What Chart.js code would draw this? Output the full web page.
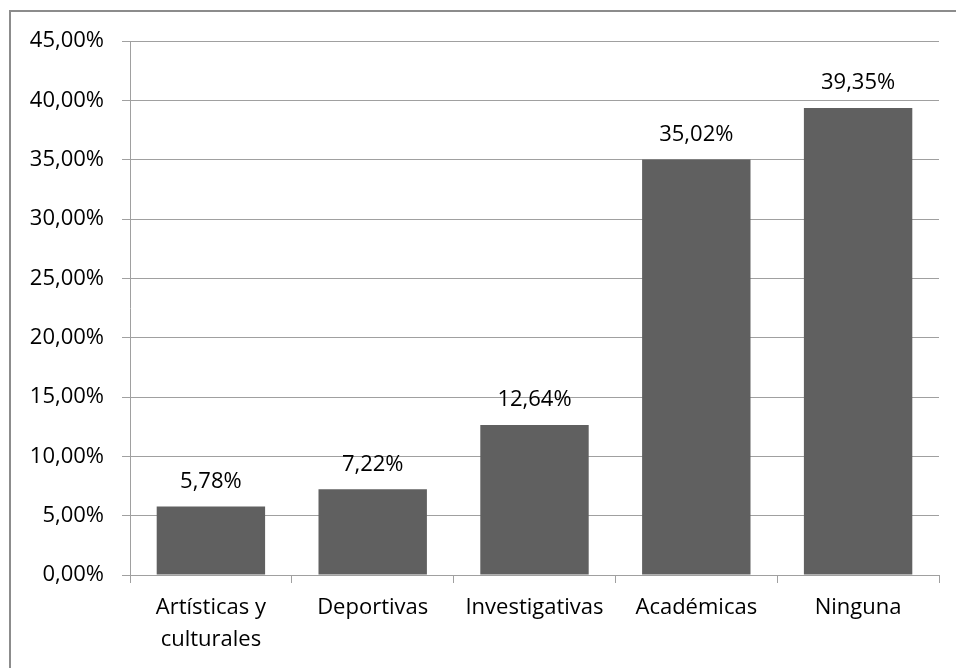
<!DOCTYPE html>
<html>
<head>
<meta charset="utf-8">
<script src="https://cdn.jsdelivr.net/npm/chart.js@4/dist/chart.umd.min.js"></script>
<style>
  html, body { margin: 0; padding: 0; background: #fff; }
  #wrap { position: relative; width: 956px; height: 668px; overflow: hidden; }
  #frame { position: absolute; left: 9px; top: 10px; width: 1000px; height: 700px; border: 2px solid #8c8c8c; box-sizing: border-box; }
  canvas { position: absolute; left: 0; top: 0; }
</style>
</head>
<body>
<div id="wrap">
  <div id="frame"></div>
  <canvas id="chart" width="956" height="668"></canvas>
</div>
<script>
const categories = [['Artísticas y', 'culturales'], 'Deportivas', 'Investigativas', 'Académicas', 'Ninguna'];
const values = [5.78, 7.22, 12.64, 35.02, 39.35];
const yTicks = [0, 5, 10, 15, 20, 25, 30, 35, 40, 45];

const fmt = v => v.toFixed(2).replace('.', ',') + '%';
const FONT = '"Open Sans", "Noto Sans", sans-serif';
const SIZE = 22;

const barLabels = {
  id: 'barLabels',
  afterDatasetsDraw(chart) {
    const ctx = chart.ctx;
    const meta = chart.getDatasetMeta(0);
    ctx.save();
    ctx.font = SIZE + 'px ' + FONT;
    ctx.fillStyle = '#000';
    ctx.textAlign = 'center';
    ctx.textBaseline = 'middle';
    meta.data.forEach((bar, i) => {
      ctx.fillText(fmt(values[i]), bar.x, bar.y - 25);
    });
    ctx.restore();
  }
};

new Chart(document.getElementById('chart').getContext('2d'), {
  type: 'bar',
  data: {
    labels: categories,
    datasets: [{
      data: values,
      backgroundColor: '#606060',
      categoryPercentage: 0.67,
      barPercentage: 1
    }]
  },
  options: {
    responsive: false,
    animation: false,
    layout: { padding: { left: 20, top: 41, right: 17, bottom: 0 } },
    plugins: { legend: { display: false }, tooltip: { enabled: false } },
    scales: {
      x: {
        grid: { drawOnChartArea: false, drawTicks: true, tickLength: 8, color: '#a0a0a0', offset: true },
        border: { color: '#a0a0a0', width: 1 },
        ticks: { color: '#000', font: { family: FONT, size: SIZE, lineHeight: 1.45 }, padding: 9, maxRotation: 0, autoSkip: false },
        afterFit(scale) { scale.height = 93; }
      },
      y: {
        min: 0,
        max: 45,
        afterBuildTicks(scale) { scale.ticks = yTicks.map(v => ({ value: v })); },
        grid: { color: '#a0a0a0', tickLength: 8, lineWidth: 1 },
        border: { color: '#a0a0a0', width: 1 },
        ticks: { color: '#000', font: { family: FONT, size: SIZE }, padding: 18, callback: v => fmt(v) },
        afterFit(scale) { scale.width = 110; }
      }
    }
  },
  plugins: [barLabels]
});
</script>
</body>
</html>
